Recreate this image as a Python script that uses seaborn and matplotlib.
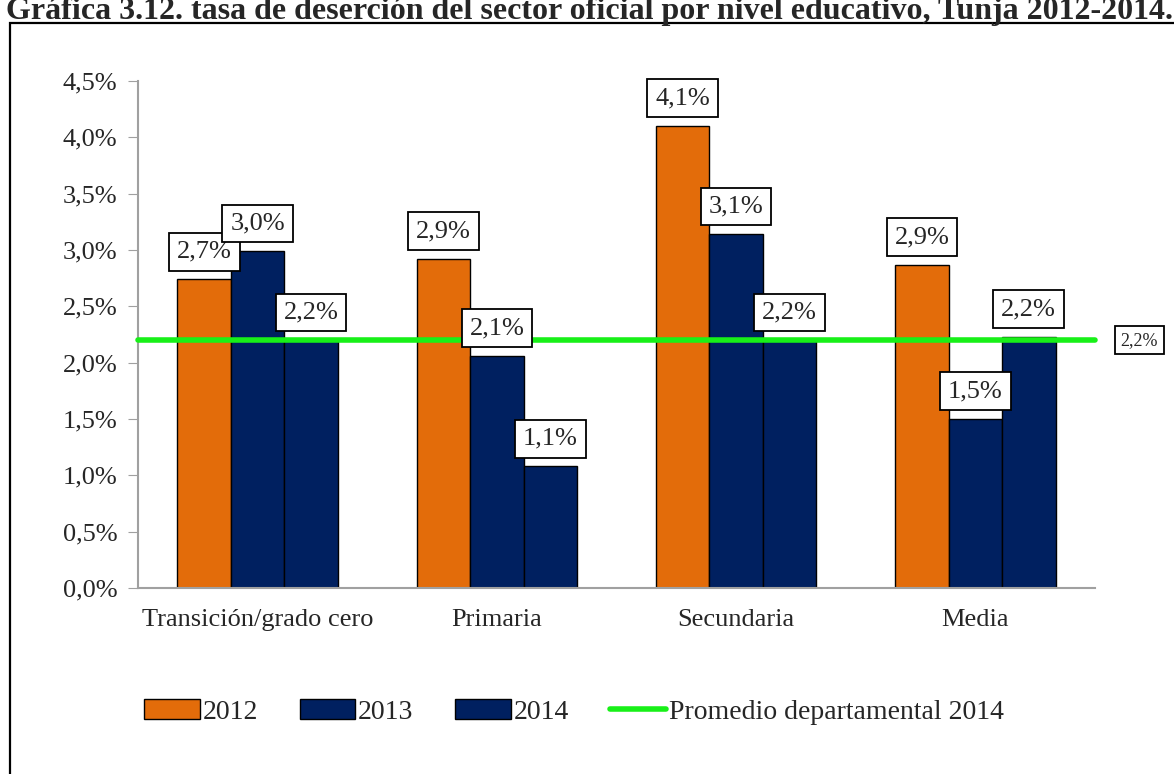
import pandas as pd
import numpy as np
import matplotlib
matplotlib.use("Agg")
import matplotlib.pyplot as plt
import seaborn as sns
from matplotlib.patches import Patch, Rectangle
from matplotlib.lines import Line2D

# Data
niveles = ['Transición/grado cero', 'Primaria', 'Secundaria', 'Media']
anios = ['2012', '2013', '2014']
tasa_2012 = [0.0274, 0.0292, 0.0410, 0.0287]
tasa_2013 = [0.0299, 0.0206, 0.0314, 0.0150]
tasa_2014 = [0.0220, 0.0108, 0.0220, 0.0223]
etiquetas_2012 = ['2,7%', '2,9%', '4,1%', '2,9%']
etiquetas_2013 = ['3,0%', '2,1%', '3,1%', '1,5%']
etiquetas_2014 = ['2,2%', '1,1%', '2,2%', '2,2%']
promedio_2014 = 0.022
promedio_label = '2,2%'
y_ticks = [0.0, 0.005, 0.01, 0.015, 0.02, 0.025, 0.03, 0.035, 0.04, 0.045]
y_ticklabels = ['0,0%', '0,5%', '1,0%', '1,5%', '2,0%', '2,5%', '3,0%', '3,5%', '4,0%', '4,5%']
titulo = 'Gráfica 3.12. tasa de deserción del sector oficial por nivel educativo, Tunja 2012-2014.'

ORANGE = '#E36C0A'
NAVY = '#002060'
GREEN = '#18F018'
GREY = '#A0A0A0'

df = pd.DataFrame({
    'nivel': niveles * 3,
    'anio': sum([[a] * 4 for a in anios], []),
    'tasa': tasa_2012 + tasa_2013 + tasa_2014,
})

sns.set_style('white')
plt.rcParams['font.family'] = ['Liberation Serif', 'DejaVu Serif']
FS = 19

fig = plt.figure(figsize=(11.74, 7.74), dpi=100)
ax = fig.add_axes([138 / 1174, 1 - 588 / 774, (1095 - 138) / 1174, (588 - 81) / 774])

sns.barplot(data=df, x='nivel', y='tasa', hue='anio', order=niveles, hue_order=anios,
            palette=[ORANGE, NAVY, NAVY], saturation=1, width=0.67, edgecolor='black',
            linewidth=1, gap=0, ax=ax, legend=False, zorder=2)

ax.set_xlim(-0.5, 3.5)
ax.set_ylim(0, 0.045)
ax.set_yticks(y_ticks)
ax.set_yticklabels(y_ticklabels, fontsize=FS)
ax.set_xticks(range(len(niveles)))
ax.set_xticklabels(niveles, fontsize=FS)
ax.set_xticks(np.arange(-0.5, 4.0, 1.0), minor=True)
ax.tick_params(axis='x', which='major', length=0, pad=15)
ax.tick_params(axis='x', which='minor', length=6, color=GREY, direction='out')
ax.tick_params(axis='y', length=7, color=GREY, direction='out', pad=8, left=True)
ax.set_xlabel('')
ax.set_ylabel('')
for s in ['top', 'right']:
    ax.spines[s].set_visible(False)
for s in ['left', 'bottom']:
    ax.spines[s].set_color(GREY)
    ax.spines[s].set_linewidth(1.5)

# Departmental average line
ax.plot([-0.5, 3.5], [promedio_2014, promedio_2014], color=GREEN, lw=4,
        solid_capstyle='round', clip_on=False, zorder=3)

# Bar labels
caja = dict(boxstyle='square,pad=0.3', fc='white', ec='black', lw=1.3)
for cont, labs in zip(ax.containers, [etiquetas_2012, etiquetas_2013, etiquetas_2014]):
    for bar, lab in zip(cont, labs):
        xc = bar.get_x() + bar.get_width() / 2
        ax.annotate(lab, xy=(xc, bar.get_height()), xytext=(0, 12), textcoords='offset points',
                    ha='center', va='bottom', fontsize=FS, bbox=caja, zorder=5)

ax.annotate(promedio_label, xy=(3.5, promedio_2014), xytext=(32, 0), textcoords='offset points',
            ha='center', va='center', fontsize=13, bbox=caja, annotation_clip=False, zorder=5)

# Legend
handles = [Patch(facecolor=ORANGE, edgecolor='black'),
           Patch(facecolor=NAVY, edgecolor='black'),
           Patch(facecolor=NAVY, edgecolor='black'),
           Line2D([0], [0], color=GREEN, lw=4)]
fig.legend(handles, anios + ['Promedio departamental 2014'], loc='center',
           bbox_to_anchor=(574 / 1174, 1 - 712 / 774), ncol=4, frameon=False, fontsize=20,
           handlelength=2.0, handleheight=0.7, handletextpad=0.1, columnspacing=1.5)

# Outer frame and title
fig.patches.append(Rectangle((10 / 1174, -0.1), 1.2, 1.1 - 23 / 774, transform=fig.transFigure,
                             fill=False, ec='black', lw=1.6))
fig.text(6 / 1174, 1 - 19 / 774, titulo, fontsize=23, fontweight='bold', ha='left',
         va='baseline', family=['Liberation Serif', 'DejaVu Serif'])

fig.savefig('out.png', dpi=100)
